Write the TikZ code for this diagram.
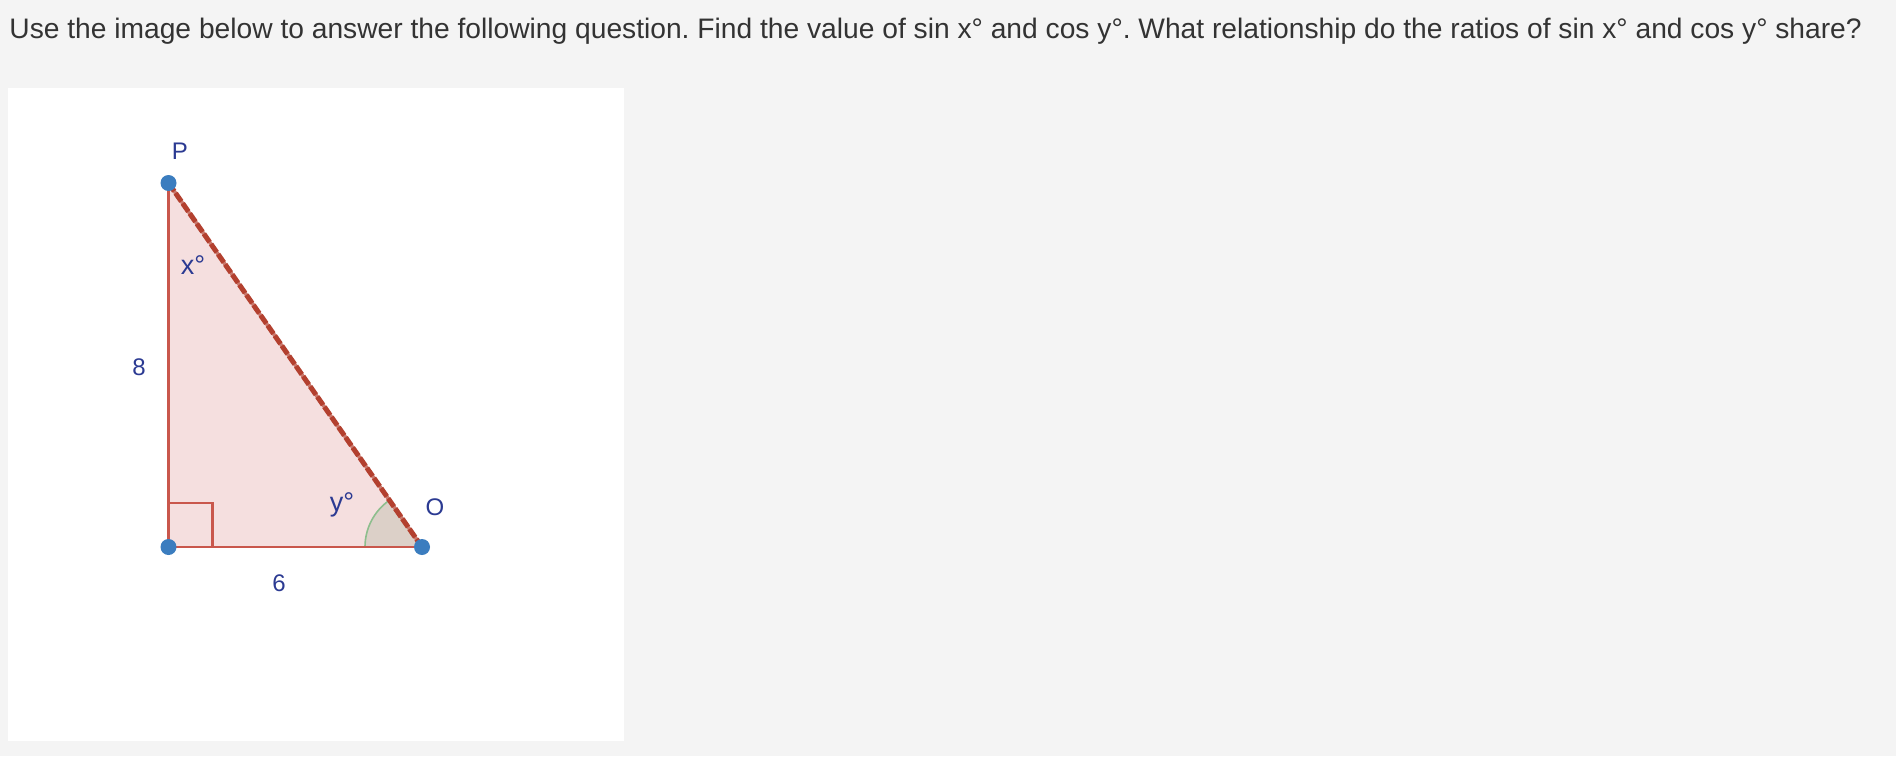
\documentclass[tikz,border=0pt]{standalone}
\usepackage{fontspec}
\setmainfont{Liberation Sans}
\usetikzlibrary{positioning}
\frenchspacing
\definecolor{pagegray}{HTML}{F4F4F4}
\definecolor{qtext}{HTML}{333333}
\definecolor{legred}{HTML}{C9574C}
\definecolor{hypred}{HTML}{B3402F}
\definecolor{trifill}{HTML}{F5DFDF}
\definecolor{wedgefill}{HTML}{DCD0C8}
\definecolor{wedgegreen}{HTML}{8DBE8D}
\definecolor{dotblue}{HTML}{3B7DBF}
\definecolor{lblblue}{HTML}{2B3A92}
\begin{document}
\begin{tikzpicture}[x=0.5pt, y=-0.5pt,
	vertex/.style={circle, fill=dotblue, inner sep=0pt, minimum size=8pt},
	lbl/.style={text=lblblue, inner sep=0pt, font=\fontsize{12}{14}\selectfont},
	anglelbl/.style={lbl, font=\fontsize{13.5}{15}\selectfont},
	legline/.style={legred, line width=1.2pt}]
		% page and panel
		\fill[pagegray] (0,0) rectangle (1896,756);
		\useasboundingbox (0,0) rectangle (1896,756);
		\fill[white] (8,88) rectangle (624,741);

		% question
		\node[anchor=base west, inner sep=0pt, text=qtext, font=\fontsize{14.1}{16}\selectfont] (question) at (9,38.5) {Use the image below to answer the following question. Find the value of sin x° and cos y°. What relationship do the ratios of sin x° and cos y° share?};

		% triangle
		\coordinate (P) at (168.5,183);
		\coordinate (R) at (168.5,547);
		\coordinate (O) at (422,547);

		\fill[trifill] (P) -- (R) -- (O) -- cycle;
		\filldraw[fill=wedgefill, draw=wedgegreen, line width=0.8pt] (O) -- ++(180:57) arc[start angle=180, end angle=235.1, radius=57] -- cycle;

		\draw[legline] (P) -- (R);
		\draw[legline] (R) -- (O);
		\draw[legline] (R) ++(0,-44) -- ++(44,0) -- ++(0,44);
		\draw[hypred!70!white, line width=1.8pt] (P) -- (O);
		\draw[hypred, line width=2.5pt, dash pattern=on 5pt off 1.2pt] (P) -- (O);

		\node[vertex] (Pdot) at (P) {};
		\node[vertex] (Rdot) at (R) {};
		\node[vertex] (Odot) at (O) {};

		% labels
		\node[lbl] (Plbl) at (180,151) {P};
		\node[lbl] (Olbl) at (435,507) {O};
		\node[anglelbl] (xlbl) at (193,265) {x°};
		\node[anglelbl] (ylbl) at (342,505) {y°};
		\node[lbl] (eight) at (139,367) {8};
		\node[lbl] (six) at (279,583) {6};

	\end{tikzpicture}
\end{document}
